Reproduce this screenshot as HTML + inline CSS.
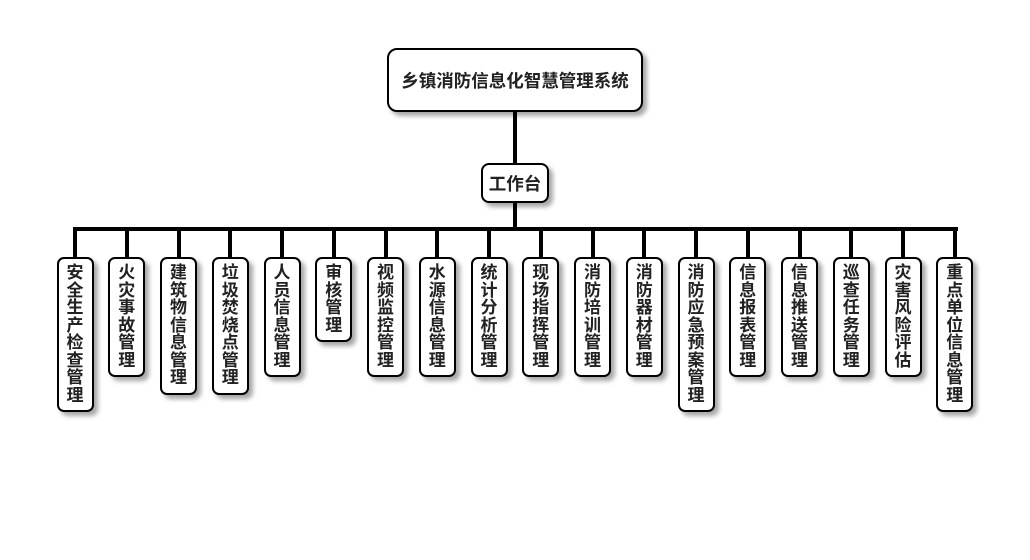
<!DOCTYPE html>
<html><head><meta charset="utf-8"><style>
body{margin:0;width:1030px;height:560px;background:#fff;position:relative;overflow:hidden;font-family:"Liberation Sans","Noto Sans CJK SC",sans-serif;}
.b{position:absolute;background:#fff;border:2px solid #000;border-radius:8px;box-shadow:4px 4px 5px rgba(0,0,0,.35);box-sizing:border-box;font-weight:bold;color:#222;display:flex;align-items:center;justify-content:center;}
.v{position:absolute;width:37px;box-sizing:border-box;background:#fff;border:2px solid #000;border-radius:7px;box-shadow:4px 4px 5px rgba(0,0,0,.35);font-weight:bold;color:#222;font-size:17px;line-height:17.5px;text-align:center;padding-top:5px;top:257px;}
.l{position:absolute;background:#000;}
</style></head><body>
<div class="l" style="left:513px;top:110px;width:4px;height:56px"></div>
<div class="l" style="left:513px;top:200px;width:4px;height:30px"></div>
<div class="l" style="left:73px;top:227px;width:885px;height:4px"></div>
<div class="b" style="left:387px;top:48px;width:256px;height:64px;font-size:17.5px;border-radius:10px">乡镇消防信息化智慧管理系统</div>
<div class="b" style="left:481px;top:163px;width:68px;height:40px;font-size:17.5px">工作台</div>
<script>
var t=["安全生产检查管理","火灾事故管理","建筑物信息管理","垃圾焚烧点管理","人员信息管理","审核管理","视频监控管理","水源信息管理","统计分析管理","现场指挥管理","消防培训管理","消防器材管理","消防应急预案管理","信息报表管理","信息推送管理","巡查任务管理","灾害风险评估","重点单位信息管理"];
var h="";
for(var i=0;i<t.length;i++){var c=75+i*51.75;
h+='<div class="l" style="left:'+(c-2)+'px;top:229px;width:4px;height:30px"></div>';
h+='<div class="v" style="left:'+(c-18.5)+'px;height:'+(15+t[i].length*17.5)+'px">'+t[i].split("").join("<br>")+'</div>';}
document.body.insertAdjacentHTML("beforeend",h);
</script>
</body></html>
